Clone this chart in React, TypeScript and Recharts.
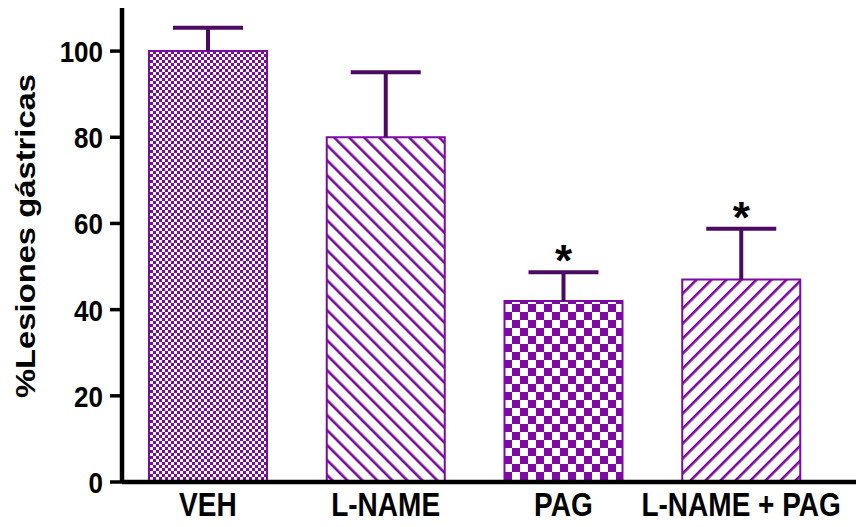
import { BarChart, Bar, XAxis, YAxis, Cell, LabelList, Label } from "recharts";

const groups = ["VEH", "L-NAME", "PAG", "L-NAME + PAG"];
const lesionMeans = [100, 80, 42, 47];
const lesionErrors = [5.4, 15.1, 6.7, 11.8];
const significance = ["", "", "*", "*"];
const yTicks = [0, 20, 40, 60, 80, 100];

const data = groups.map((group, i) => ({
  group,
  mean: lesionMeans[i],
  err: lesionErrors[i],
  sig: significance[i],
}));

const fills = ["url(#fineCheck)", "url(#backStripe)", "url(#bigCheck)", "url(#fwdStripe)"];

const PURPLE = "#7d0aa3";
const DARK = "#4c0b62";
const FONT = "'Liberation Sans', Arial, sans-serif";
const STRETCH = 1.17;

const ErrorShape = (p: any) => {
  const cx = p.x + p.width / 2;
  return (
    <g>
      <line x1={cx} x2={cx} y1={p.y + p.height} y2={p.y} stroke={DARK} strokeWidth={4} />
      <line x1={cx - 35} x2={cx + 35} y1={p.y} y2={p.y} stroke={DARK} strokeWidth={4} />
    </g>
  );
};

const Star = (p: any) => {
  if (!p.value) return null;
  return (
    <text x={p.x + p.width / 2} y={p.y + 4} textAnchor="middle" fontSize={44} fontWeight="bold" fontFamily={FONT} fill="#000">
      {p.value}
    </text>
  );
};

const YTick = (p: any) => (
  <g transform={`translate(${p.x - 5},${p.y})`}>
    <text transform={`scale(1,${STRETCH})`} textAnchor="end" dy="0.36em" fontSize={26} fontWeight="bold" fontFamily={FONT} fill="#000">
      {p.payload.value}
    </text>
  </g>
);

const XTick = (p: any) => (
  <g transform={`translate(${p.x},${p.y + 11})`}>
    <text transform={`scale(1,${STRETCH})`} textAnchor="middle" y={20} fontSize={28} fontWeight="bold" fontFamily={FONT} fill="#000">
      {p.payload.value}
    </text>
  </g>
);

const YTitle = (p: any) => {
  const vb = p.viewBox;
  const cy = vb.y + vb.height / 2 - 9;
  return (
    <g transform={`translate(25,${cy}) scale(1,${STRETCH}) rotate(-90)`}>
      <text textAnchor="middle" dy="0.36em" fontSize={28} fontWeight="bold" fontFamily={FONT} fill="#000">
        %Lesiones gástricas
      </text>
    </g>
  );
};

export default function App() {
  return (
    <div style={{ position: "absolute", left: 0, top: 0, background: "#fff" }}>
      <BarChart width={862} height={527} data={data} margin={{ top: 8, right: 6, bottom: 0, left: 0 }}>
        <defs>
          <pattern id="fineCheck" width={6} height={6} patternUnits="userSpaceOnUse">
            <rect width={6} height={6} fill="#fff" />
            <rect width={3} height={3} fill={PURPLE} />
            <rect x={3} y={3} width={3} height={3} fill={PURPLE} />
          </pattern>
          <pattern id="bigCheck" width={16} height={16} patternUnits="userSpaceOnUse">
            <rect width={16} height={16} fill="#fff" />
            <rect width={8} height={8} fill={PURPLE} />
            <rect x={8} y={8} width={8} height={8} fill={PURPLE} />
          </pattern>
          <pattern id="backStripe" width={10.6} height={10.6} patternUnits="userSpaceOnUse" patternTransform="rotate(-45)">
            <rect width={10.6} height={10.6} fill="#fff" />
            <rect width={2.6} height={10.6} fill={PURPLE} />
          </pattern>
          <pattern id="fwdStripe" width={10.6} height={10.6} patternUnits="userSpaceOnUse" patternTransform="rotate(45)">
            <rect width={10.6} height={10.6} fill="#fff" />
            <rect width={2.6} height={10.6} fill={PURPLE} />
          </pattern>
        </defs>
        <XAxis
          dataKey="group"
          height={45}
          tickSize={0}
          tickMargin={0}
          tickLine={false}
          axisLine={{ stroke: "#000", strokeWidth: 4.5 }}
          tick={XTick}
          padding={{ left: -3, right: 26 }}
        />
        <YAxis
          domain={[0, 110]}
          ticks={yTicks}
          width={122}
          tickSize={12}
          axisLine={{ stroke: "#000", strokeWidth: 4.5 }}
          tickLine={{ stroke: "#000", strokeWidth: 3.5 }}
          tick={YTick}
        >
          <Label content={YTitle} />
        </YAxis>
        <Bar dataKey="mean" stackId="a" barSize={118} stroke={PURPLE} strokeWidth={2} isAnimationActive={false}>
          {data.map((d, i) => (
            <Cell key={d.group} fill={fills[i]} />
          ))}
        </Bar>
        <Bar dataKey="err" stackId="a" barSize={118} shape={ErrorShape} isAnimationActive={false}>
          <LabelList dataKey="sig" content={Star} />
        </Bar>
      </BarChart>
    </div>
  );
}
